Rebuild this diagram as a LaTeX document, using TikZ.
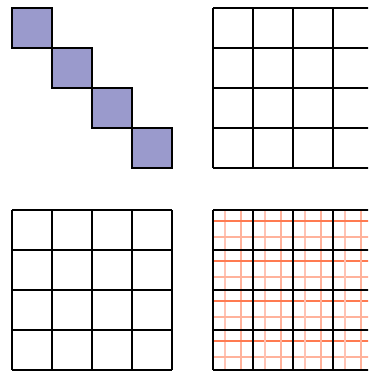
\documentclass[tikz,border=0pt]{standalone}
\usetikzlibrary{positioning}
\definecolor{cellblue}{RGB}{154,154,204}
\definecolor{subred}{RGB}{255,122,80}
\definecolor{subpink}{RGB}{255,178,155}
\definecolor{subpale}{RGB}{255,195,180}

\begin{document}
\begin{tikzpicture}[
    cell/.style={draw=black, line width=0.8pt, fill=cellblue},
    gridline/.style={black, line width=0.9pt},
    fineline/.style={subred, line width=1.1pt},
    faintline/.style={subpink, line width=1pt},
    paleline/.style={subpale, line width=1.4pt}
  ]
  \useasboundingbox (0,0) rectangle (9.2,9.35);
  \clip (0,0) rectangle (9.2,9.35);

  %% Panel 1: cells on the diagonal
  \foreach \i in {0,...,3}
    \draw[cell] (0.3+\i,8.15-\i) rectangle ++(1,1);

  %% Panel 2: plain grid, cut at the right edge
  \begin{scope}[shift={(5.325,5.15)}]
    \draw[gridline] (0,0) grid (4,4);
  \end{scope}

  %% Panel 3: plain grid
  \begin{scope}[shift={(0.3,0.1)}]
    \draw[gridline] (0,0) grid (4,4);
  \end{scope}

  %% Panel 4: grid with fine red lines
  \begin{scope}[shift={(5.325,0.1)}]
    \foreach \c in {0,...,3} {
      \draw[paleline] (\c+0.31,0) -- (\c+0.31,4);
      \draw[faintline] (\c+0.7,0) -- (\c+0.7,4);
      \draw[fineline] (0,\c+0.72) -- (4,\c+0.72);
      \draw[faintline] (0,\c+0.32) -- (4,\c+0.32);
    }
    \draw[gridline] (0,0) grid (4,4);
  \end{scope}
\end{tikzpicture}
\end{document}
